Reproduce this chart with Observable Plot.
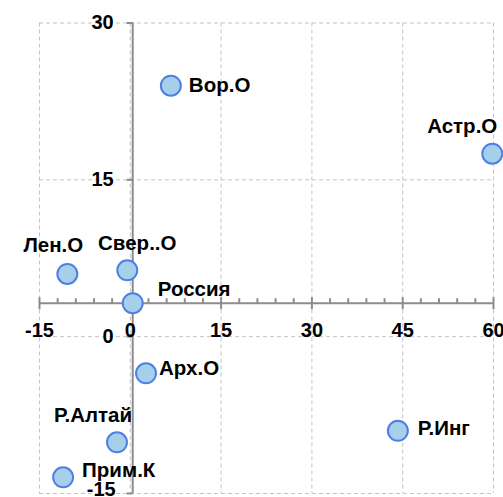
<!DOCTYPE html>
<html>
<head>
<meta charset="utf-8">
<script src="https://cdn.jsdelivr.net/npm/d3@7"></script>
<script src="https://cdn.jsdelivr.net/npm/@observablehq/plot@0.6"></script>
<style>
  html, body { margin: 0; padding: 0; background: #fff; }
</style>
</head>
<body>
<div id="chart"></div>
<script>
// ---- data ----
const regions = ["Вор.О", "Астр.О", "Лен.О", "Свер..О", "Россия", "Арх.О", "Р.Алтай", "Прим.К", "Р.Инг"];
const xValues = [6.7, 59.8, -10.4, -0.5, 0.4, 2.6, -2.2, -11.1, 44.2];
const yValues = [24.0, 17.5, 6.0, 6.35, 3.2, -3.5, -10.1, -13.45, -9.0];
const xTicks = [-15, 0, 15, 30, 45, 60];
const yTicks = [-15, 0, 15, 30];
const xMinorStep = 3;

// ---- label placement (style) ----
const labelPlacement = {
  "Вор.О":   {anchor: "start",  dx: 18,  dy: 0},
  "Астр.О":  {anchor: "end",    dx: 5,   dy: -27},
  "Лен.О":   {anchor: "middle", dx: -14, dy: -28},
  "Свер..О": {anchor: "middle", dx: 10,  dy: -27},
  "Россия":  {anchor: "start",  dx: 25,  dy: -14},
  "Арх.О":   {anchor: "start",  dx: 13,  dy: -5},
  "Р.Алтай": {anchor: "middle", dx: -24, dy: -27},
  "Прим.К":  {anchor: "start",  dx: 19,  dy: -7},
  "Р.Инг":   {anchor: "start",  dx: 20,  dy: -2}
};

const points = regions.map((name, i) => ({name, x: xValues[i], y: yValues[i]}));
const cross = points.find(d => d.name === "Россия");
const crossX = cross.x, crossY = cross.y;

const minorTicks = d3.range(xTicks[0], xTicks[xTicks.length - 1] + 0.001, xMinorStep)
  .filter(v => !xTicks.includes(v));

const seg = (x1, y1, x2, y2) => ({draw(ctx) { ctx.moveTo(x1, y1); ctx.lineTo(x2, y2); }});
const minorSym = seg(0, -5, 0, 0);
const majorSym = seg(0, -6, 0, 6);
const ySym = seg(-6, 0, 0, 0);

const axisColor = "#8c8c8c";
const gridColor = "#c4c4c4";
const font = "'Liberation Sans', Arial, sans-serif";

const labelMarks = points.map(d => {
  const p = labelPlacement[d.name];
  return Plot.text([d], {
    x: "x", y: "y", text: "name",
    textAnchor: p.anchor, dx: p.dx, dy: p.dy,
    fontSize: 20.5, fontWeight: "bold", fill: "#000"
  });
});

const chart = Plot.plot({
  width: 503,
  height: 497,
  marginLeft: 39,
  marginRight: 10,
  marginTop: 22.5,
  marginBottom: 4,
  style: {fontFamily: font, background: "#fff", overflow: "visible"},
  x: {domain: [-15, 60], axis: null},
  y: {domain: [-15, 30], axis: null},
  marks: [
    Plot.ruleX(xTicks, {stroke: gridColor, strokeDasharray: "4,3", strokeWidth: 1}),
    Plot.ruleY(yTicks, {stroke: gridColor, strokeDasharray: "4,3", strokeWidth: 1}),
    Plot.ruleY([crossY], {x1: xTicks[0], x2: xTicks[xTicks.length - 1], stroke: axisColor, strokeWidth: 2}),
    Plot.ruleX([crossX], {y1: yTicks[0], y2: yTicks[yTicks.length - 1], stroke: axisColor, strokeWidth: 2}),
    Plot.dot(minorTicks, {x: d => d, y: () => crossY, symbol: minorSym, r: 3, fill: "none", stroke: axisColor, strokeWidth: 2}),
    Plot.dot(xTicks, {x: d => d, y: () => crossY, symbol: majorSym, r: 3, fill: "none", stroke: axisColor, strokeWidth: 2}),
    Plot.dot(yTicks, {x: () => crossX, y: d => d, symbol: ySym, r: 3, fill: "none", stroke: axisColor, strokeWidth: 2}),
    Plot.text(xTicks, {x: d => d, y: () => crossY, text: d => String(d), dy: 27, fontSize: 20, fontWeight: "bold", fill: "#000"}),
    Plot.text(yTicks.filter(v => v !== -15), {x: () => crossX, y: d => d, text: d => String(d), dx: -19, textAnchor: "end", fontSize: 20, fontWeight: "bold", fill: "#000"}),
    Plot.text(yTicks.filter(v => v === -15), {x: () => crossX, y: d => d, text: d => String(d), dx: -17, dy: -4, textAnchor: "end", fontSize: 20, fontWeight: "bold", fill: "#000"}),
    Plot.dot(points, {x: "x", y: "y", r: 10, fill: "#a6cfea", stroke: "#4f7fe3", strokeWidth: 2}),
    ...labelMarks
  ]
});
document.getElementById("chart").appendChild(chart);
</script>
</body>
</html>
